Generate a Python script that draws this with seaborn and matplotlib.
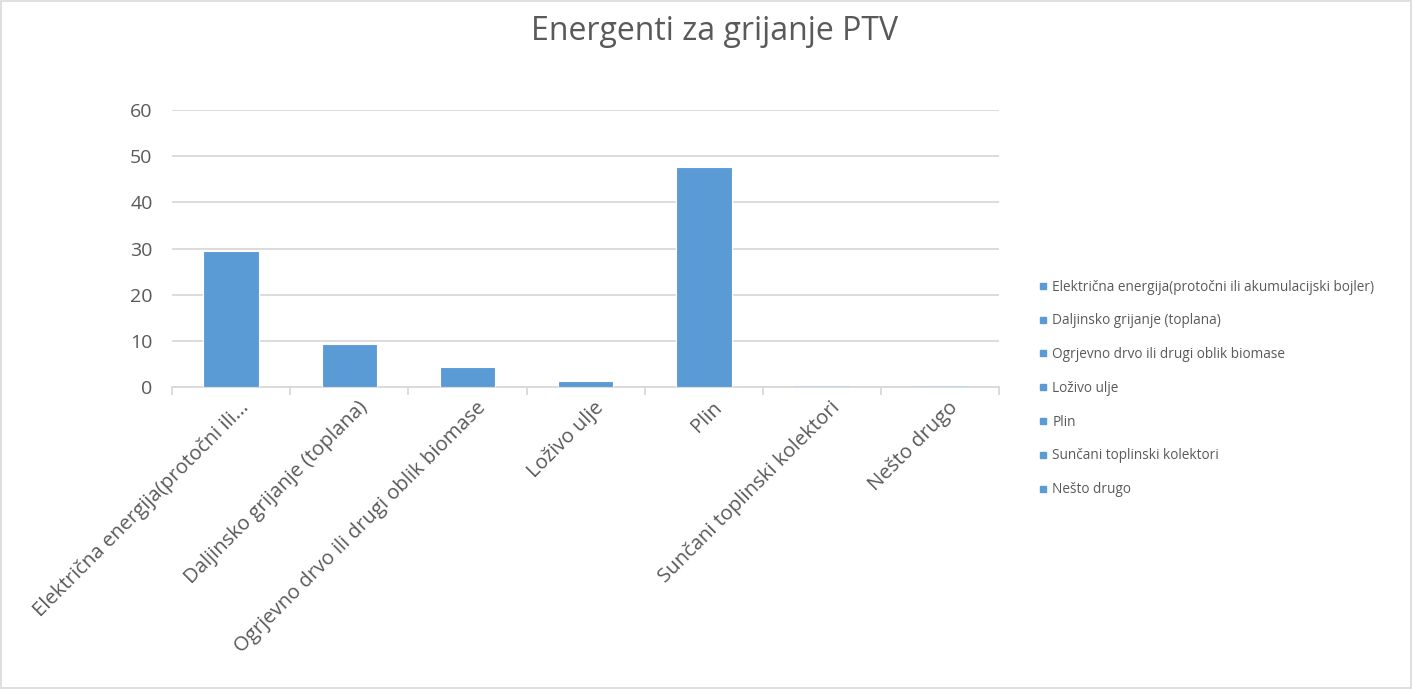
import matplotlib
matplotlib.use("Agg")

import matplotlib.pyplot as plt
import matplotlib.transforms as mtransforms
import numpy as np
import pandas as pd
import seaborn as sns
from matplotlib.lines import Line2D
from matplotlib.patches import Rectangle

title = "Energenti za grijanje PTV"
categories = [
    "Električna energija(protočni ili akumulacijski bojler)",
    "Daljinsko grijanje (toplana)",
    "Ogrjevno drvo ili drugi oblik biomase",
    "Loživo ulje",
    "Plin",
    "Sunčani toplinski kolektori",
    "Nešto drugo",
]
tick_labels = [
    "Električna energija(protočni ili...",
    "Daljinsko grijanje (toplana)",
    "Ogrjevno drvo ili drugi oblik biomase",
    "Loživo ulje",
    "Plin",
    "Sunčani toplinski kolektori",
    "Nešto drugo",
]
values = [29.5, 9.4, 4.4, 1.4, 47.7, 0, 0]
y_ticks = [0, 10, 20, 30, 40, 50, 60]

BLUE = "#5B9BD5"
LIGHT = "#BDD7EE"
GRID = "#D9D9D9"
TEXT = "#595959"

df = pd.DataFrame({"cat": categories, "val": values})

sns.set_theme(style="white")
plt.rcParams["font.family"] = ["Open Sans", "DejaVu Sans"]

fig = plt.figure(figsize=(14.12, 6.89), dpi=100)
ax = fig.add_axes([0.1218, 0.4383, 0.586, 0.402])

sns.barplot(data=df, x="cat", y="val", color=BLUE, width=0.47,
            saturation=1, ax=ax, zorder=3)
for bar, v in zip(ax.patches, values):
    if v == 0:
        bar.set_facecolor(LIGHT)
        bar.set_edgecolor(LIGHT)
        bar.set_linewidth(1.5)
    else:
        bar.set_edgecolor("white")
        bar.set_linewidth(0.8)

ax.set_ylim(0, 60)
ax.set_xlim(-0.5, len(categories) - 0.5)
ax.set_yticks(y_ticks)
ax.set_yticklabels([str(t) for t in y_ticks], fontsize=14, color=TEXT)
ax.yaxis.grid(True, color=GRID, linewidth=1.3, zorder=0)
ax.set_axisbelow(True)
ax.tick_params(axis="y", length=0, pad=14)

ax.set_xticks(range(len(categories)))
ax.set_xticklabels(tick_labels, rotation=45, ha="right",
                   rotation_mode="anchor", fontsize=14.6, color=TEXT)
ax.tick_params(axis="x", which="major", bottom=True, length=0, pad=4)
shift = mtransforms.ScaledTranslation(8 / 100, -5 / 100, fig.dpi_scale_trans)
for lbl in ax.get_xticklabels():
    lbl.set_transform(lbl.get_transform() + shift)
ax.set_xticks(np.arange(-0.5, len(categories), 1), minor=True)
ax.tick_params(axis="x", which="minor", bottom=True, length=6,
               width=1.3, color=GRID)
ax.set_xlabel("")
ax.set_ylabel("")

for side in ["top", "right", "left"]:
    ax.spines[side].set_visible(False)
ax.spines["bottom"].set_color(GRID)
ax.spines["bottom"].set_linewidth(1.3)

fig.text(0.506, 0.955, title, ha="center", va="center",
         fontsize=23, color=TEXT)

handles = [Line2D([], [], marker="s", linestyle="", markersize=4,
                  color=BLUE) for _ in categories]
fig.legend(handles, categories, loc="upper left",
           bbox_to_anchor=(0.727, 0.612), frameon=False,
           fontsize=9.8, labelcolor=TEXT, labelspacing=1.38,
           handlelength=0.6, handletextpad=0.4)

fig.patches.append(Rectangle((0.001, 0.001), 0.998, 0.998,
                             transform=fig.transFigure, fill=False,
                             edgecolor=GRID, linewidth=1.2))

fig.savefig("out.png", dpi=100)
